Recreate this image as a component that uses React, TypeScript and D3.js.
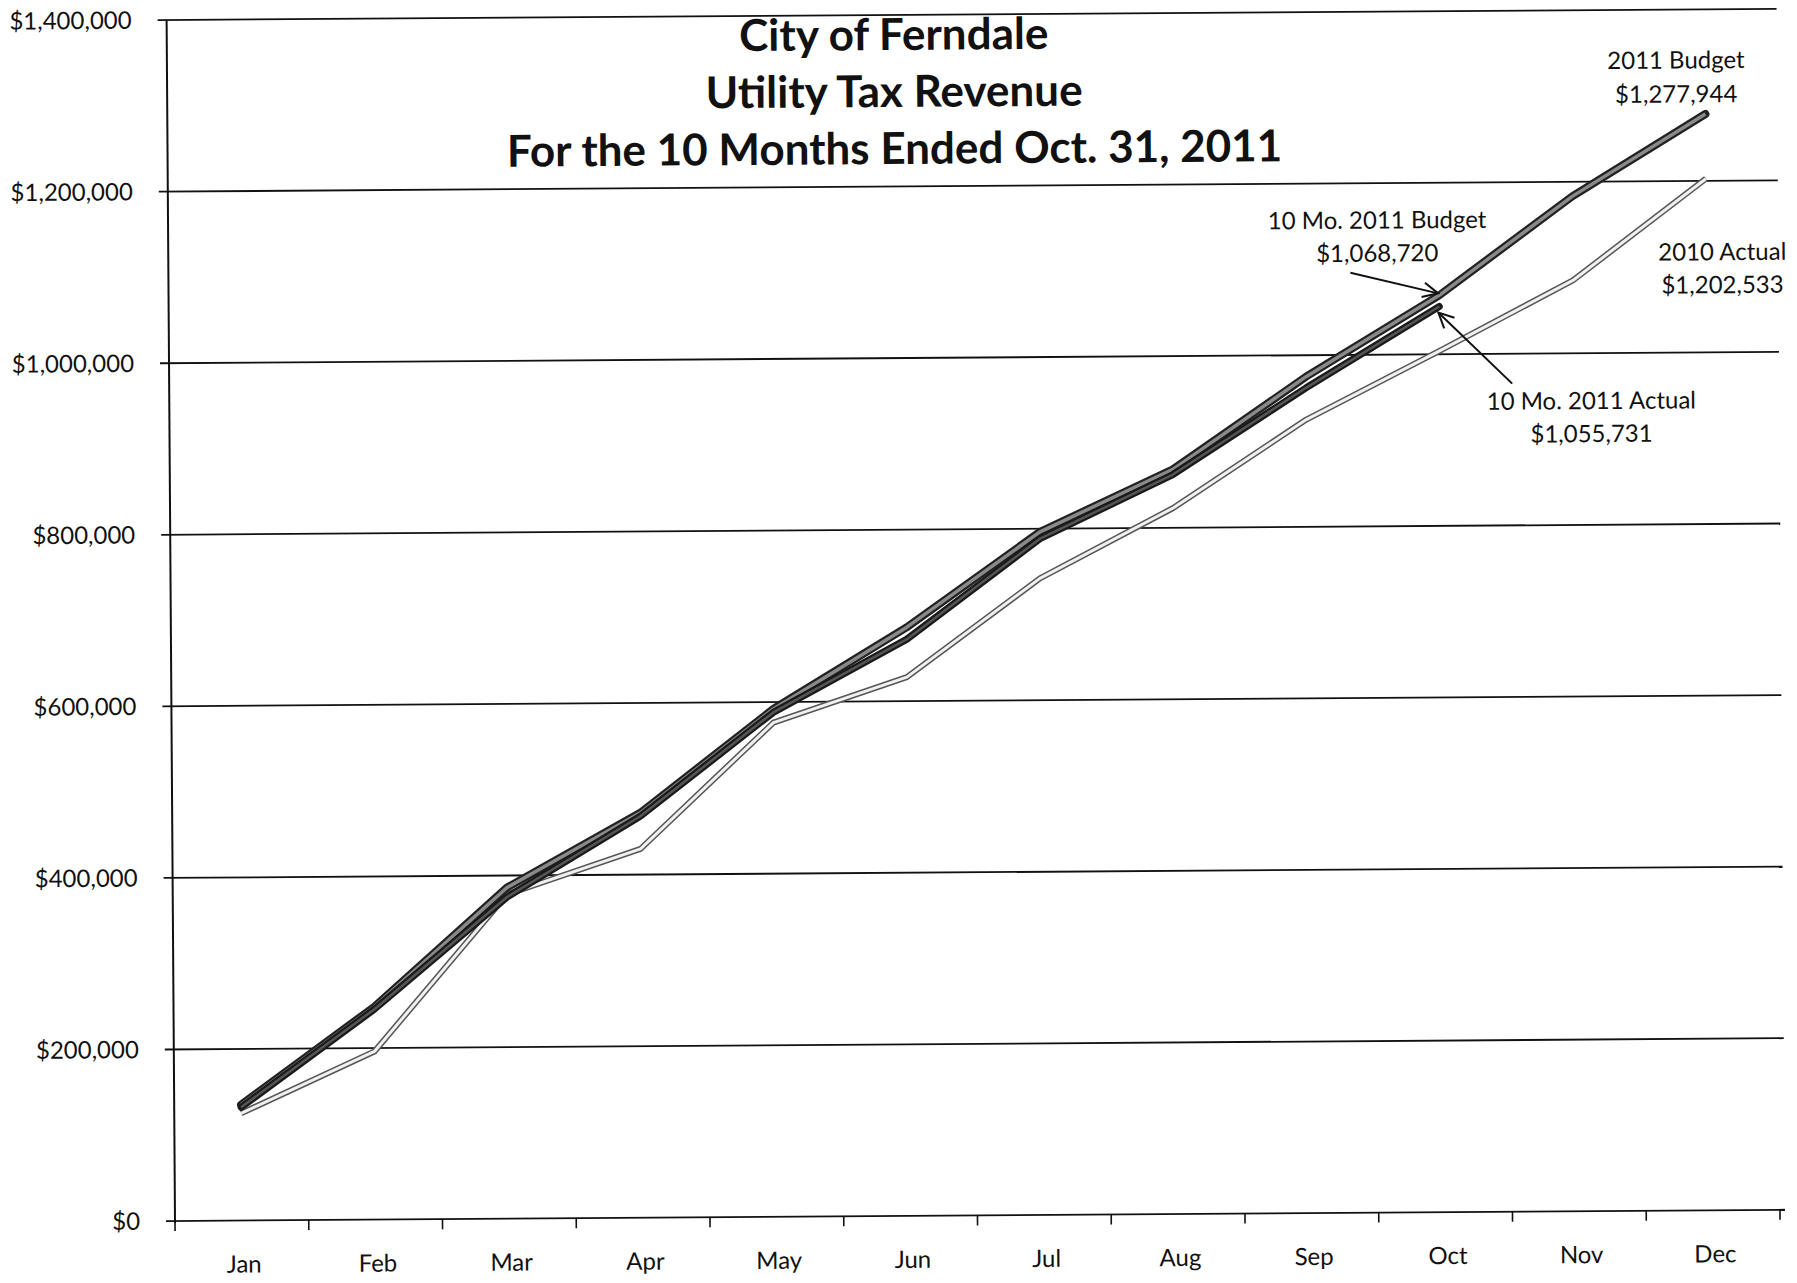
import React from "react";
import * as d3 from "d3";

const months = ["Jan", "Feb", "Mar", "Apr", "May", "Jun", "Jul", "Aug", "Sep", "Oct", "Nov", "Dec"];
const budget2011 = [135000, 248000, 386000, 472000, 592000, 686000, 796000, 868000, 975000, 1068720, 1183000, 1277944];
const actual2011 = [132000, 245000, 375000, 468000, 588000, 672000, 788000, 862000, 962000, 1055731];
const actual2010 = [125000, 196000, 378000, 430000, 576000, 628000, 742000, 823000, 925000, 1004000, 1085000, 1202533];
const yTicks = [0, 200000, 400000, 600000, 800000, 1000000, 1200000, 1400000];
const titleLines = ["City of Ferndale", "Utility Tax Revenue", "For the 10 Months Ended Oct. 31, 2011"];

const W = 1797;
const H = 1283;
const FONT = "Lato, 'Open Sans', sans-serif";

export default function App() {
  const x0 = 175, x1 = 1780, yTop = 20, yBot = 1221, gridEnd = 1785;
  const x = d3.scaleBand<string>().domain(months).range([x0, x1]);
  const y = d3.scaleLinear().domain([0, 1400000]).range([yBot, yTop]);
  const cx = (i: number) => (x(months[i]) as number) + x.bandwidth() / 2;
  const line = d3.line<number>().x((_, i) => cx(i)).y((d) => y(d));
  const fmt = (v: number) => "$" + d3.format(",")(v);

  const arrowHead = (fx: number, fy: number, tx: number, ty: number, len = 17, ang = 0.45) => {
    const a = Math.atan2(ty - fy, tx - fx);
    const p1 = [tx - len * Math.cos(a - ang), ty - len * Math.sin(a - ang)];
    const p2 = [tx - len * Math.cos(a + ang), ty - len * Math.sin(a + ang)];
    return `M${p1[0]},${p1[1]}L${tx},${ty}L${p2[0]},${p2[1]}`;
  };

  const bTip = [cx(9) - 1, y(budget2011[9]) - 2];
  const aTip = [cx(9) - 1, y(actual2011[9]) + 6];
  const bStart = [1357, 281];
  const aStart = [1518, 393];

  return (
    <svg width={W} height={H} style={{ position: "fixed", left: 0, top: 0, background: "#fff" }}>
      <rect width={W} height={H} fill="#fff" />
      <g transform={`rotate(-0.4, ${x0}, ${yBot})`}>
        {yTicks.map((t) => (
          <line key={t} x1={x0 - 9} x2={gridEnd} y1={y(t)} y2={y(t)} stroke="#111" strokeWidth={1.8} />
        ))}
        <line x1={x0} x2={x0} y1={yTop} y2={yBot + 2} stroke="#111" strokeWidth={2} />
        {yTicks.map((t) => (
          <text key={t} x={x0 - 35} y={y(t)} dy="0.35em" textAnchor="end" fontFamily={FONT} fontSize={24} fill="#111">
            {fmt(t)}
          </text>
        ))}
        {d3.range(months.length + 1).map((i) => (
          <line key={i} x1={x0 + i * x.bandwidth()} x2={x0 + i * x.bandwidth()} y1={yBot} y2={yBot + 10} stroke="#111" strokeWidth={1.6} />
        ))}
        {months.map((m, i) => (
          <text key={m} x={cx(i) + 2} y={yBot + 52} textAnchor="middle" fontFamily={FONT} fontSize={24} fill="#111">
            {m}
          </text>
        ))}
        {titleLines.map((t, i) => (
          <text key={t} x={902} y={55 + i * 57} textAnchor="middle" fontFamily={FONT} fontWeight={700} fontSize={44} fill="#111">
            {t}
          </text>
        ))}
        <path d={line(actual2010) || ""} fill="none" stroke="#555" strokeWidth={6} strokeLinejoin="round" />
        <path d={line(actual2010) || ""} fill="none" stroke="#f0f0f0" strokeWidth={3} strokeLinejoin="round" />
        <path d={line(budget2011) || ""} fill="none" stroke="#222" strokeWidth={8} strokeLinejoin="round" strokeLinecap="round" />
        <path d={line(budget2011) || ""} fill="none" stroke="#8a8a8a" strokeWidth={3.5} strokeLinejoin="round" />
        <path d={line(actual2011) || ""} fill="none" stroke="#1a1a1a" strokeWidth={7} strokeLinejoin="round" strokeLinecap="round" />
        <path d={line(actual2011) || ""} fill="none" stroke="#555" strokeWidth={2.5} strokeLinejoin="round" />
        <g fontFamily={FONT} fontSize={24} fill="#111" textAnchor="middle">
          <text x={1684} y={79}>2011 Budget</text>
          <text x={1684} y={113}>{fmt(budget2011[11])}</text>
          <text x={1384} y={237}>10 Mo. 2011 Budget</text>
          <text x={1384} y={270}>{fmt(budget2011[9])}</text>
          <text x={1729} y={271}>2010 Actual</text>
          <text x={1729} y={304}>{fmt(actual2010[11])}</text>
          <text x={1597} y={419}>10 Mo. 2011 Actual</text>
          <text x={1597} y={452}>{fmt(actual2011[9])}</text>
        </g>
        <line x1={bStart[0]} y1={bStart[1]} x2={bTip[0]} y2={bTip[1]} stroke="#111" strokeWidth={2} />
        <path d={arrowHead(bStart[0], bStart[1], bTip[0], bTip[1])} fill="none" stroke="#111" strokeWidth={2} />
        <line x1={aStart[0]} y1={aStart[1]} x2={aTip[0]} y2={aTip[1]} stroke="#111" strokeWidth={2} />
        <path d={arrowHead(aStart[0], aStart[1], aTip[0], aTip[1])} fill="none" stroke="#111" strokeWidth={2} />
      </g>
    </svg>
  );
}
